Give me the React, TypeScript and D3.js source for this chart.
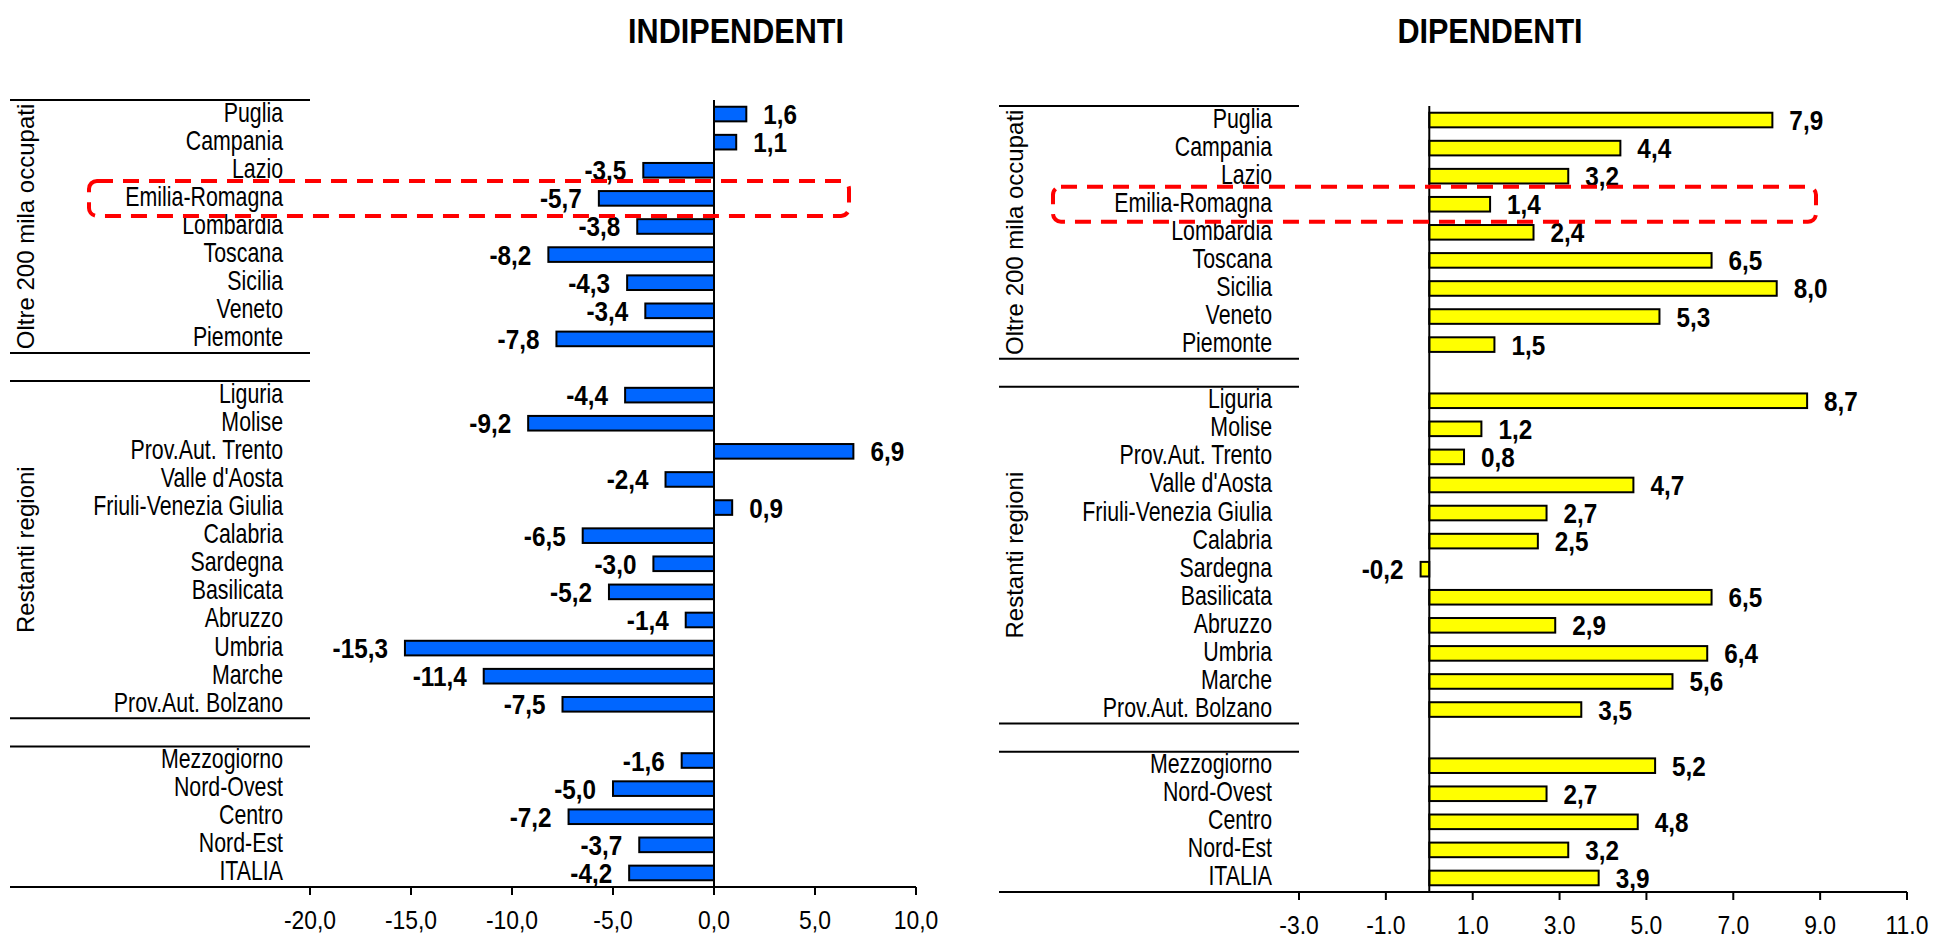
import React from "react";
import * as d3 from "d3";

// regioni con oltre 200 mila occupati
const oltreLabels = ["Puglia", "Campania", "Lazio", "Emilia-Romagna", "Lombardia", "Toscana", "Sicilia", "Veneto", "Piemonte"];
// restanti regioni
const restantiLabels = ["Liguria", "Molise", "Prov.Aut. Trento", "Valle d'Aosta", "Friuli-Venezia Giulia", "Calabria", "Sardegna", "Basilicata", "Abruzzo", "Umbria", "Marche", "Prov.Aut. Bolzano"];
// ripartizioni
const ripartLabels = ["Mezzogiorno", "Nord-Ovest", "Centro", "Nord-Est", "ITALIA"];

const indipOltre = [1.6, 1.1, -3.5, -5.7, -3.8, -8.2, -4.3, -3.4, -7.8];
const indipRestanti = [-4.4, -9.2, 6.9, -2.4, 0.9, -6.5, -3.0, -5.2, -1.4, -15.3, -11.4, -7.5];
const indipRipart = [-1.6, -5.0, -7.2, -3.7, -4.2];

const dipOltre = [7.9, 4.4, 3.2, 1.4, 2.4, 6.5, 8.0, 5.3, 1.5];
const dipRestanti = [8.7, 1.2, 0.8, 4.7, 2.7, 2.5, -0.2, 6.5, 2.9, 6.4, 5.6, 3.5];
const dipRipart = [5.2, 2.7, 4.8, 3.2, 3.9];

const indipTicks = [-20, -15, -10, -5, 0, 5, 10];
const dipTicks = [-3, -1, 1, 3, 5, 7, 9, 11];

const groupTitles = ["Oltre 200 mila occupati", "Restanti regioni"];
const highlighted = "Emilia-Romagna";

const FONT = "'Liberation Sans', Arial, sans-serif";

type Row = { key: string; label: string; value: number | null };

function buildRows(a: number[], b: number[], c: number[]): Row[] {
  const rows: Row[] = [];
  oltreLabels.forEach((l, i) => rows.push({ key: l, label: l, value: a[i] }));
  rows.push({ key: "gap1", label: "", value: null });
  restantiLabels.forEach((l, i) => rows.push({ key: l, label: l, value: b[i] }));
  rows.push({ key: "gap2", label: "", value: null });
  ripartLabels.forEach((l, i) => rows.push({ key: l, label: l, value: c[i] }));
  return rows;
}

const comma = (v: number) => d3.format(".1f")(v).replace(".", ",").replace("−", "-");
const dot = (v: number) => d3.format(".1f")(v).replace("−", "-");

interface PanelProps {
  title: string;
  titleX: number;
  rows: Row[];
  lineX0: number;
  x0: number;
  x1: number;
  top: number;
  bottom: number;
  domain: [number, number];
  ticks: number[];
  tickFmt: (v: number) => string;
  fill: string;
  box: [number, number];
}

function Panel(p: PanelProps) {
  const x = d3.scaleLinear().domain(p.domain).range([p.x0, p.x1]);
  const y = d3
    .scaleBand<string>()
    .domain(p.rows.map((r) => r.key))
    .range([p.top, p.bottom])
    .paddingInner(0.48)
    .paddingOuter(0.24);
  const step = y.step();
  const slotTop = (k: string) => (y(k) as number) - step * 0.24;
  const mid = (k: string) => (y(k) as number) + y.bandwidth() / 2;

  const sepYs = [p.top, slotTop("gap1"), slotTop("gap1") + step, slotTop("gap2"), slotTop("gap2") + step];
  const groups = [
    { title: groupTitles[0], y0: p.top, y1: slotTop("gap1") },
    { title: groupTitles[1], y0: slotTop("gap1") + step, y1: slotTop("gap2") },
  ];
  const labelX = p.x0 - 27;
  const zero = x(0);

  return (
    <g>
      <text
        transform={`translate(${p.titleX},43) scale(0.85,1)`}
        textAnchor="middle"
        fontFamily={FONT}
        fontWeight="bold"
        fontSize={36}
        fill="#000"
      >
        {p.title}
      </text>

      {/* separatori dei gruppi */}
      {sepYs.map((sy, i) => (
        <line key={i} x1={p.lineX0} x2={p.x0} y1={sy} y2={sy} stroke="#000" strokeWidth={2} />
      ))}

      {groups.map((g) => (
        <text
          key={g.title}
          transform={`translate(${p.lineX0 + 24},${(g.y0 + g.y1) / 2}) rotate(-90)`}
          textAnchor="middle"
          fontFamily={FONT}
          fontSize={24}
          fill="#000"
        >
          {g.title}
        </text>
      ))}

      {p.rows
        .filter((r) => r.value !== null)
        .map((r) => (
          <text
            key={"l" + r.key}
            transform={`translate(${labelX},${mid(r.key) + 7.5}) scale(0.79,1)`}
            textAnchor="end"
            fontFamily={FONT}
            fontSize={27}
            fill="#000"
          >
            {r.label}
          </text>
        ))}

      {p.rows
        .filter((r) => r.value !== null)
        .map((r) => {
          const v = r.value as number;
          return (
            <rect
              key={"b" + r.key}
              x={Math.min(x(v), zero)}
              y={y(r.key)}
              width={Math.abs(x(v) - zero)}
              height={y.bandwidth()}
              fill={p.fill}
              stroke="#000"
              strokeWidth={2}
            />
          );
        })}

      {p.rows
        .filter((r) => r.value !== null)
        .map((r) => {
          const v = r.value as number;
          const tx = v >= 0 ? x(v) + 17 : x(v) - 17;
          return (
            <text
              key={"v" + r.key}
              transform={`translate(${tx},${mid(r.key) + 10}) scale(0.9,1)`}
              textAnchor={v >= 0 ? "start" : "end"}
              fontFamily={FONT}
              fontWeight="bold"
              fontSize={27}
              fill="#000"
            >
              {comma(v)}
            </text>
          );
        })}

      {/* asse dello zero */}
      <line x1={zero} x2={zero} y1={p.top} y2={p.bottom} stroke="#000" strokeWidth={2} />

      {/* asse x */}
      <line x1={p.lineX0} x2={p.x1} y1={p.bottom} y2={p.bottom} stroke="#000" strokeWidth={2} />
      {p.ticks.map((t) => (
        <g key={t}>
          <line x1={x(t)} x2={x(t)} y1={p.bottom} y2={p.bottom + 8} stroke="#000" strokeWidth={2} />
          <text
            transform={`translate(${x(t)},${p.bottom + 42}) scale(0.88,1)`}
            textAnchor="middle"
            fontFamily={FONT}
            fontSize={26}
            fill="#000"
          >
            {p.tickFmt(t)}
          </text>
        </g>
      ))}

      <rect
        x={p.box[0]}
        y={mid(highlighted) - 17.5}
        width={p.box[1] - p.box[0]}
        height={35}
        rx={8}
        fill="none"
        stroke="#FF0000"
        strokeWidth={4}
        strokeDasharray="16 10"
      />
    </g>
  );
}

export default function App() {
  const leftRows = buildRows(indipOltre, indipRestanti, indipRipart);
  const rightRows = buildRows(dipOltre, dipRestanti, dipRipart);
  return (
    <svg
      width={1934}
      height={938}
      viewBox="0 0 1934 938"
      style={{ position: "absolute", left: 0, top: 0, background: "#fff" }}
    >
      <rect width={1934} height={938} fill="#fff" />
      <Panel
        title="INDIPENDENTI"
        titleX={736}
        rows={leftRows}
        lineX0={10}
        x0={310}
        x1={916}
        top={100}
        bottom={887}
        domain={[-20, 10]}
        ticks={indipTicks}
        tickFmt={comma}
        fill="#0066FF"
        box={[89, 849]}
      />
      <Panel
        title="DIPENDENTI"
        titleX={1490}
        rows={rightRows}
        lineX0={999}
        x0={1299}
        x1={1907}
        top={106}
        bottom={892}
        domain={[-3, 11]}
        ticks={dipTicks}
        tickFmt={dot}
        fill="#FFFF00"
        box={[1053, 1816]}
      />
    </svg>
  );
}
